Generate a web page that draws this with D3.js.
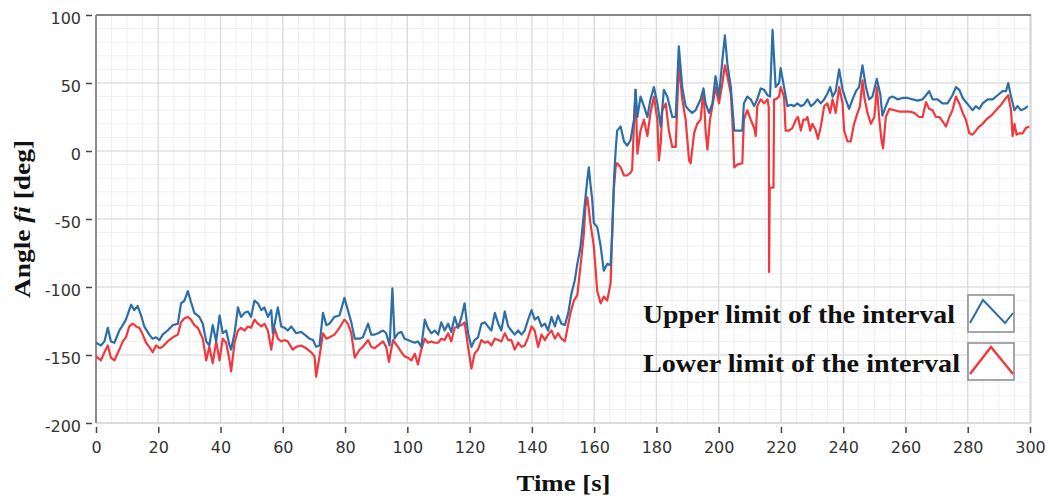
<!DOCTYPE html>
<html>
<head>
<meta charset="utf-8">
<script src="https://cdn.jsdelivr.net/npm/d3@7"></script>
<style>
  html, body { margin: 0; padding: 0; background: #fff; }
  svg { display: block; }
</style>
</head>
<body>
<svg id="chart" width="1048" height="500"></svg>
<script>
// Upper limit of the interval: time [s] and angle [deg]
const upperTime = [
  0, 1.6, 2.7, 3.8, 4.8, 5.9, 7.5, 8.6, 9.6, 11.3, 12.3, 13.4, 14.5, 15.5, 17.1, 18.2, 19.3, 20.4, 21.4, 23,
  24.7, 26.3, 27.3, 28.4, 29.5, 30.5, 31.6, 33.2, 34.3, 35.4, 36.4, 37.5, 38.6, 39.7, 40.7, 41.8, 42.9, 43.4, 44.5, 45.6,
  46.6, 47.7, 48.8, 49.8, 50.9, 52, 53.1, 54.1, 55.2, 56.3, 56.8, 58.4, 59.5, 60.6, 61.6, 62.7, 64.3, 65.9, 67, 68.6,
  69.7, 70.7, 71.8, 72.9, 74, 75, 76.6, 78.2, 79.8, 80.9, 82, 83.1, 84.7, 85.7, 87.4, 88.4, 89.5, 90.6, 92.2, 93.2,
  94.3, 95.2, 95.9, 97, 98.1, 99.1, 100.2, 101.3, 102.4, 103.4, 104.5, 105.6, 106.6, 107.7, 108.8, 109.9, 110.9, 112, 113.1, 114.1,
  115.2, 116.3, 117.4, 118.4, 119.5, 120.6, 121.6, 122.7, 123.8, 124.9, 125.9, 127, 128.1, 129.2, 130.2, 131.3, 132.4, 133.4, 134.5, 135.6,
  136.7, 137.7, 138.8, 139.9, 140.9, 142, 143.1, 144.2, 145.2, 146.3, 147.4, 148.4, 149.5, 150.6, 151.7, 152.7, 153.8, 154.6, 155.6, 156.7,
  157.8, 158.3, 158.8, 159.4, 159.9, 161, 162.1, 163.1, 164.2, 165.3, 165.8, 166.4, 166.9, 167.4, 168.5, 169.6, 170.6, 171.7, 172.8, 173.3,
  173.9, 174.9, 176, 177.1, 178.1, 179.2, 180.3, 181.4, 182.4, 183.5, 185.1, 186.2, 187.2, 188.3, 189.4, 190.5, 191.5, 192.6, 194.2, 195.1,
  195.8, 196.9, 198, 199, 200.1, 201.2, 202, 202.8, 203.9, 205, 206, 207.6, 208.1, 209.2, 210.3, 211.4, 212.4, 213.5, 214.6, 215.7,
  216.5, 217.3, 218.3, 219.4, 219.9, 221, 222.1, 223.2, 224.2, 225.3, 226.4, 227.4, 228.5, 229.6, 230.7, 231.7, 232.8, 233.9, 234.9, 235.8,
  236.6, 237.6, 238.7, 239.8, 240.8, 241.9, 243, 244.1, 245.1, 246.2, 247.3, 248.3, 249.4, 250.8, 251.9, 252.6, 253.7, 254.8, 255.8, 257.5,
  259.1, 260.7, 262.3, 263.9, 265.5, 266.6, 267.6, 268.7, 270.3, 271.9, 273.5, 275.1, 276.2, 277.3, 278.4, 279.4, 280.5, 281.6, 282.6, 283.7,
  284.8, 286.4, 288, 289.6, 291.2, 292.3, 293, 293.9, 295, 296, 297.1, 298.2, 299.3
];
const upperAngle = [
  -141, -143, -140, -130, -140, -141, -132, -128, -124, -113, -117, -114, -121, -129, -135, -138, -137, -139, -135, -132,
  -128, -127, -112, -110, -103, -111, -119, -122, -127, -140, -143, -128, -140, -121, -134, -132, -143, -146, -134, -115,
  -122, -119, -118, -122, -110, -112, -117, -115, -122, -117, -134, -115, -129, -130, -132, -129, -134, -133, -135, -138,
  -139, -144, -143, -119, -128, -127, -122, -121, -108, -117, -126, -138, -138, -137, -127, -135, -135, -134, -132, -134,
  -143, -101, -138, -134, -133, -138, -139, -140, -141, -140, -144, -124, -130, -134, -132, -135, -126, -132, -127, -133,
  -122, -130, -122, -112, -134, -144, -139, -137, -127, -126, -129, -132, -119, -127, -132, -118, -129, -132, -135, -132,
  -135, -132, -124, -117, -124, -122, -129, -127, -132, -122, -129, -121, -127, -128, -119, -105, -95, -83, -71, -46,
  -21, -12, -24, -36, -53, -56, -70, -88, -83, -84, -60, -20, 0, 15, 18, 7, 4, 8, 23, 45,
  25, 40, 33, 25, 38, 47, 35, 18, 45, 40, 25, 25, 77, 47, 33, 30, 28, 30, 38, 46,
  35, 28, 35, 55, 40, 67, 85, 64, 47, 15, 15, 15, 35, 40, 38, 33, 38, 46, 45, 41,
  40, 89, 47, 50, 61, 47, 33, 34, 33, 35, 33, 34, 38, 33, 35, 38, 35, 38, 42, 47,
  40, 44, 60, 45, 38, 31, 38, 44, 47, 63, 47, 38, 40, 53, 42, 26, 33, 39, 40, 38,
  39, 39, 38, 37, 38, 41, 44, 38, 38, 35, 35, 41, 47, 45, 39, 36, 33, 30, 33, 31,
  35, 38, 38, 41, 44, 44, 50, 40, 30, 33, 30, 31, 33
];

// Lower limit of the interval: time [s] and angle [deg]
const lowerTime = [
  0, 1.6, 2.7, 3.8, 4.8, 5.9, 7.5, 8.6, 9.6, 10.7, 11.8, 12.9, 13.9, 15, 16.1, 17.1, 18.2, 19.3, 20.4, 21.4,
  23, 24.7, 26.3, 27.3, 28.4, 29.5, 30.5, 31.6, 32.7, 34.3, 35.4, 36.4, 37.5, 38.6, 39.7, 40.7, 41.8, 42.9, 43.4, 44.5,
  45.6, 46.6, 47.7, 48.8, 49.8, 50.9, 52, 53.1, 54.1, 55.2, 56.3, 57.3, 58.4, 59.5, 60.6, 61.6, 63.2, 64.3, 65.9, 67.5,
  69.1, 70.2, 70.7, 71.8, 72.9, 74, 75, 76.6, 78.2, 79.8, 80.9, 82, 83.1, 84.7, 85.7, 87.4, 88.4, 89.5, 90.6, 92.2,
  93.2, 94.1, 95.4, 97, 98.1, 99.1, 100.2, 101.3, 102.4, 103.4, 104.5, 105.6, 106.6, 107.7, 108.8, 109.9, 110.9, 112, 113.1, 114.1,
  115.2, 116.3, 117.4, 118.4, 119.5, 120.6, 121.6, 122.7, 123.8, 124.9, 125.9, 127, 128.1, 129.2, 130.2, 131.3, 132.4, 133.4, 134.5, 135.6,
  136.7, 137.7, 138.8, 139.9, 140.9, 142, 143.1, 144.2, 145.2, 146.3, 147.4, 148.4, 149.5, 150.6, 151.3, 152.4, 153.5, 154.6, 155.6, 156.7,
  157.2, 157.8, 158.3, 158.8, 159.9, 161, 162.1, 163.1, 164.2, 165.3, 165.8, 166.3, 166.9, 167.4, 168.5, 169.6, 170.6, 171.7, 172.2, 172.8,
  173.3, 173.9, 174.9, 176, 177.1, 178.1, 179.2, 180.3, 180.8, 181.4, 181.9, 183, 184, 185.1, 186.2, 187.2, 188.3, 189.4, 190.5, 191,
  192.1, 193.1, 194.2, 195.1, 195.8, 196.4, 197.2, 198, 199, 200.1, 201.2, 202, 202.8, 203.9, 204.4, 205, 206, 207.6, 208.1, 209.2,
  210.3, 211.4, 211.9, 212.4, 213.5, 214.6, 215.7, 216.1, 216.2, 216.4, 217.6, 217.8, 218.3, 219.4, 219.9, 221, 221.5, 222.6, 223.7, 224.8,
  225.5, 226.4, 227.2, 228, 228.5, 229.4, 230.1, 231.2, 231.9, 232.8, 233.9, 234.9, 235.8, 236.6, 237.6, 238.7, 239.8, 240.3, 241.4, 242.4,
  243.5, 244.6, 245.4, 246.2, 246.9, 247.8, 248.9, 250, 250.8, 251.6, 252.3, 252.8, 253.7, 254.8, 256.4, 258, 259.6, 261.2, 262.8, 264.4,
  265.5, 266.6, 267.6, 268.7, 269.8, 270.9, 271.9, 273, 274.1, 275.1, 276.2, 277.3, 278.4, 279.4, 280.5, 281.6, 282.6, 283.7, 284.8, 285.9,
  287.5, 289.1, 290.7, 292.3, 293, 293.9, 294.4, 295, 295.7, 296.6, 297.6, 298.7, 299.8
];
const lowerAngle = [
  -151, -154, -148, -143, -152, -154, -146, -140, -137, -129, -127, -129, -130, -135, -141, -144, -148, -143, -145, -144,
  -140, -137, -135, -126, -123, -122, -124, -128, -130, -138, -154, -144, -156, -140, -154, -138, -141, -154, -162, -141,
  -132, -130, -132, -129, -130, -124, -127, -129, -127, -132, -146, -130, -138, -140, -139, -140, -146, -144, -143, -145,
  -148, -151, -166, -151, -134, -138, -137, -135, -130, -124, -127, -134, -152, -146, -144, -139, -144, -145, -143, -140,
  -144, -155, -139, -144, -148, -151, -152, -154, -149, -157, -146, -138, -141, -140, -141, -141, -138, -139, -134, -140,
  -130, -129, -128, -126, -144, -160, -149, -146, -139, -141, -140, -143, -138, -139, -140, -134, -139, -139, -146, -141,
  -144, -143, -137, -129, -132, -144, -135, -139, -135, -132, -138, -134, -138, -140, -132, -119, -110, -106, -85, -61,
  -41, -34, -43, -53, -70, -103, -112, -107, -110, -97, -61, -29, -12, -9, -12, -18, -18, -16, -14, 20,
  45, -2, 15, 23, 11, 28, 40, 23, -7, 6, 30, 35, 15, 3, 3, 64, 38, 23, -7, -9,
  13, 20, 23, 45, 15, 1, 23, 33, 47, 35, 50, 63, 55, 42, 23, -12, -10, -9, 23, 30,
  23, 17, 11, 33, 38, 35, 38, 32, -89, -27, -27, 38, 38, 40, 47, 40, 15, 15, 17, 23,
  25, 15, 23, 23, 25, 15, 20, 15, 9, 18, 33, 35, 28, 38, 28, 47, 35, 15, 7, 7,
  20, 28, 33, 52, 38, 28, 20, 25, 47, 23, 8, 2, 25, 31, 30, 29, 29, 29, 28, 25,
  25, 36, 31, 30, 25, 25, 22, 18, 25, 30, 40, 35, 28, 23, 13, 12, 15, 18, 20, 23,
  26, 30, 34, 39, 41, 30, 11, 20, 12, 13, 13, 17, 18
];

// Axis tick values
const xTicks = [0, 20, 40, 60, 80, 100, 120, 140, 160, 180, 200, 220, 240, 260, 280, 300];
const yTicks = [100, 50, 0, -50, -100, -150, -200];

// Legend entries
const legendLabels = ["Upper limit of the interval", "Lower limit of the interval"];
const seriesColors = ["#2c6ea8", "#f2383c"];

const svg = d3.select("#chart");
const W = 1048, H = 500;
svg.append("rect").attr("width", W).attr("height", H).attr("fill", "#fff");

const plot = { left: 96, right: 1031, top: 15, bottom: 423 };
const x = d3.scaleLinear().domain([0, 300]).range([plot.left, plot.right - 1]);
const y = d3.scaleLinear().domain([-200, 100]).range([plot.bottom, plot.top]);

// grid: minor every 5 s / 10 deg, major on ticks
const grid = svg.append("g");
grid.selectAll(".vminor").data(d3.range(0, 301, 5)).enter().append("line")
  .attr("x1", d => x(d)).attr("x2", d => x(d))
  .attr("y1", plot.top).attr("y2", plot.bottom)
  .attr("stroke", "#efefef").attr("stroke-width", 1);
grid.selectAll(".hminor").data(d3.range(-200, 101, 10)).enter().append("line")
  .attr("x1", plot.left).attr("x2", plot.right)
  .attr("y1", d => y(d)).attr("y2", d => y(d))
  .attr("stroke", "#efefef").attr("stroke-width", 1);
grid.selectAll(".vmajor").data(xTicks).enter().append("line")
  .attr("x1", d => x(d)).attr("x2", d => x(d))
  .attr("y1", plot.top).attr("y2", plot.bottom)
  .attr("stroke", "#d9d9d9").attr("stroke-width", 1.2);
grid.selectAll(".hmajor").data(yTicks).enter().append("line")
  .attr("x1", plot.left).attr("x2", plot.right)
  .attr("y1", d => y(d)).attr("y2", d => y(d))
  .attr("stroke", "#d9d9d9").attr("stroke-width", 1.2);

// frame
svg.append("line").attr("x1", plot.right).attr("x2", plot.right)
  .attr("y1", plot.top).attr("y2", plot.bottom).attr("stroke", "#cfcfcf").attr("stroke-width", 1.2);
svg.append("line").attr("x1", plot.left).attr("x2", plot.right)
  .attr("y1", plot.bottom).attr("y2", plot.bottom).attr("stroke", "#cfcfcf").attr("stroke-width", 1.2);
svg.append("line").attr("x1", plot.left).attr("x2", plot.right)
  .attr("y1", plot.top).attr("y2", plot.top).attr("stroke", "#666").attr("stroke-width", 1.6);
svg.append("line").attr("x1", plot.left).attr("x2", plot.left)
  .attr("y1", plot.top).attr("y2", plot.bottom).attr("stroke", "#777").attr("stroke-width", 1.6);

// axes (tick marks sit slightly off the plot edge)
const xAxis = d3.axisBottom(x).tickValues(xTicks).tickSize(6).tickPadding(9).tickFormat(d3.format("d"));
const gx = svg.append("g").attr("transform", `translate(0,${plot.bottom + 4})`).call(xAxis);
gx.select(".domain").remove();
gx.selectAll(".tick line").attr("stroke", "#444").attr("stroke-width", 1.5);
gx.selectAll(".tick text").attr("fill", "#333").style("font-family", "'DejaVu Sans', Verdana, sans-serif").style("font-size", "16px");

const yAxis = d3.axisLeft(y).tickValues(yTicks).tickSize(6).tickPadding(5).tickFormat(d => String(d));
const gy = svg.append("g").attr("transform", `translate(${plot.left - 4},0)`).call(yAxis);
gy.select(".domain").remove();
gy.selectAll(".tick line").attr("stroke", "#444").attr("stroke-width", 1.5);
gy.selectAll(".tick text").attr("fill", "#333").attr("dy", "0.55em")
  .style("font-family", "'DejaVu Sans', Verdana, sans-serif").style("font-size", "16px");

// series
const clip = svg.append("clipPath").attr("id", "plotclip").append("rect")
  .attr("x", plot.left).attr("y", plot.top).attr("width", plot.right - plot.left).attr("height", plot.bottom - plot.top);
const line = d3.line().x(d => x(d[0])).y(d => y(d[1]));
const series = [
  d3.zip(upperTime, upperAngle),
  d3.zip(lowerTime, lowerAngle)
];
const lines = svg.append("g").attr("clip-path", "url(#plotclip)");
[1, 0].forEach(i => {
  lines.append("path").datum(series[i])
    .attr("fill", "none").attr("stroke", seriesColors[i])
    .attr("stroke-width", 2.2).attr("stroke-linejoin", "round")
    .attr("d", line);
});

// axis titles
svg.append("text")
  .attr("x", (plot.left + plot.right) / 2).attr("y", 491)
  .attr("text-anchor", "middle")
  .style("font-family", "'Liberation Serif', 'Times New Roman', serif")
  .style("font-weight", "bold").style("font-size", "24px").attr("fill", "#111")
  .attr("textLength", 94).attr("lengthAdjust", "spacingAndGlyphs")
  .text("Time [s]");

const yt = svg.append("text")
  .attr("transform", `translate(30,${(plot.top + plot.bottom) / 2}) rotate(-90)`)
  .attr("text-anchor", "middle")
  .style("font-family", "'Liberation Serif', 'Times New Roman', serif")
  .style("font-weight", "bold").style("font-size", "24px").attr("fill", "#111")
  .attr("textLength", 158).attr("lengthAdjust", "spacingAndGlyphs");
yt.append("tspan").text("Angle ");
yt.append("tspan").style("font-style", "italic").text("fi");
yt.append("tspan").text(" [deg]");

// legend
const legendY = [323, 372];
const leg = svg.append("g");
legendLabels.forEach((lab, i) => {
  leg.append("text")
    .attr("x", 643).attr("y", legendY[i])
    .style("font-family", "'Liberation Serif', 'Times New Roman', serif")
    .style("font-weight", "bold").style("font-size", "25px").attr("fill", "#111")
    .attr("textLength", i === 0 ? 312 : 317).attr("lengthAdjust", "spacingAndGlyphs")
    .text(lab);
});
const boxes = [{ y: 295 }, { y: 343 }];
boxes.forEach(b => {
  leg.append("rect").attr("x", 968).attr("y", b.y).attr("width", 46).attr("height", 37)
    .attr("fill", "#fff").attr("stroke", "#8a8a8a").attr("stroke-width", 1.5);
});
leg.append("polyline")
  .attr("points", "970,323 983,300 1005,323 1013,313")
  .attr("fill", "none").attr("stroke", seriesColors[0]).attr("stroke-width", 2);
leg.append("polyline")
  .attr("points", "970,374 991,347 1013,374")
  .attr("fill", "none").attr("stroke", seriesColors[1]).attr("stroke-width", 2.4);
</script>
</body>
</html>
